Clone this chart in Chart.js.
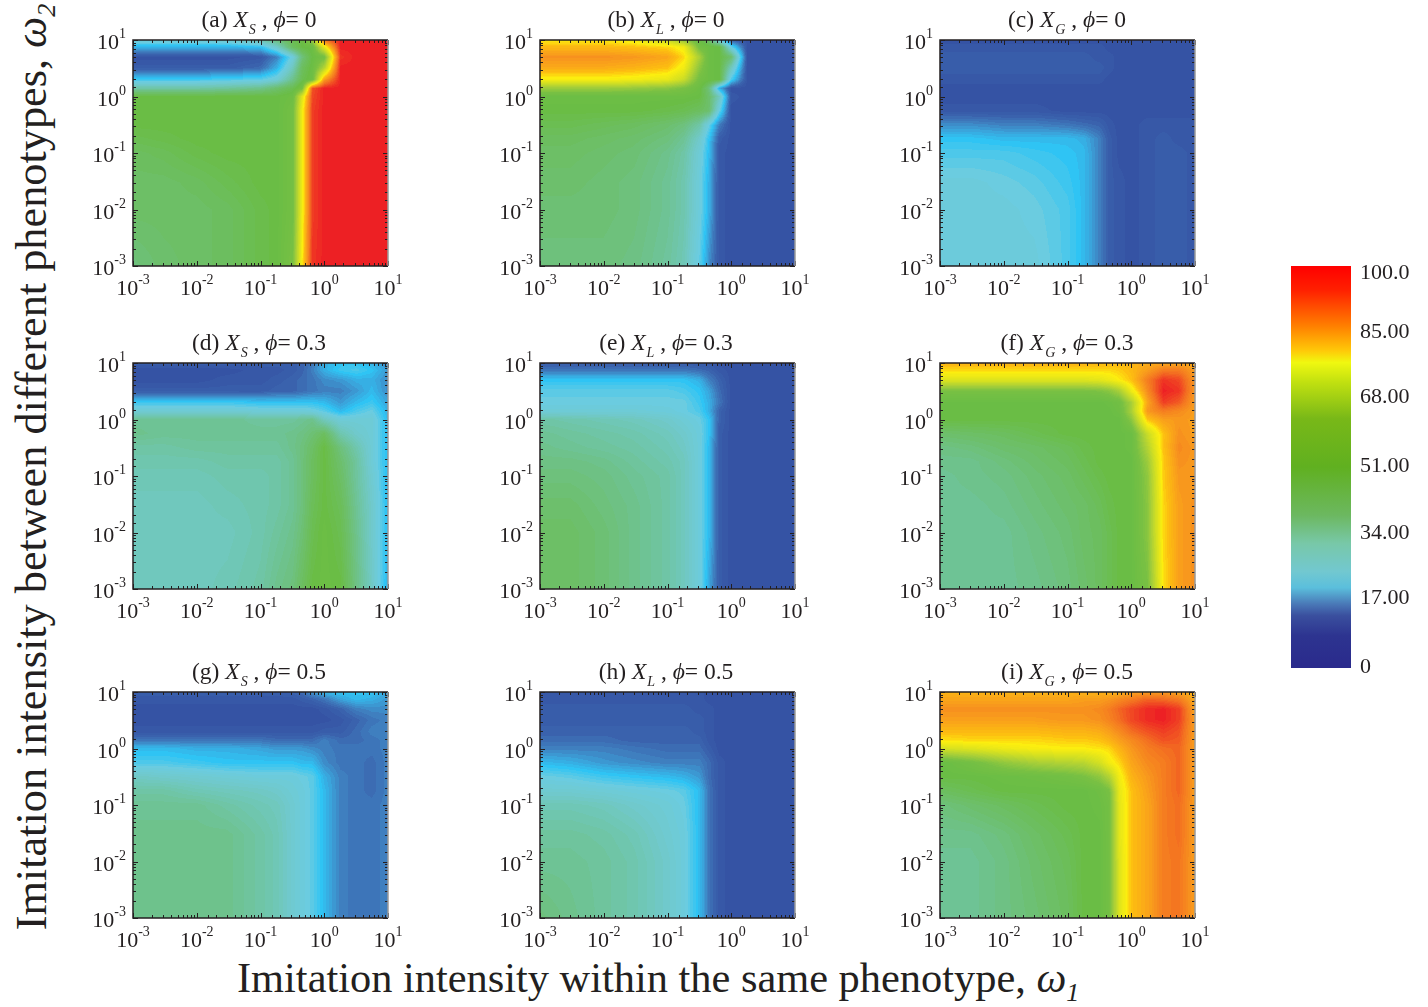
<!DOCTYPE html>
<html>
<head>
<meta charset="utf-8">
<title>Imitation intensity heat maps</title>
<script src="https://cdn.jsdelivr.net/npm/chart.js@4"></script>
<style>
html, body { margin: 0; padding: 0; background: #fff; }
body { position: relative; width: 1428px; height: 1007px; overflow: hidden; font-family: "Liberation Serif", serif; color: #231f20; }
canvas { position: absolute; }
.ptitle { position: absolute; font-size: 23.5px; line-height: 24px; white-space: nowrap; transform: translateX(-50%); }
.ptitle sub { font-size: 14px; line-height: 0; vertical-align: -7px; margin-left: 1px; }
.axtitle { position: absolute; line-height: 46px; white-space: nowrap; }
.axtitle sub { font-size: 26px; line-height: 0; vertical-align: -9px; }
</style>
</head>
<body>
<script>
// omega 1 (columns) and omega 2 (rows, top row first) of the value grid
const gridX = [0.001, 0.003, 0.01, 0.03, 0.1, 0.18, 0.32, 0.45, 0.65, 1, 1.8, 3.2, 5.6, 10];
const gridY = [10, 7.5, 5, 3.2, 2, 1.4, 1, 0.56, 0.32, 0.18, 0.1, 0.03, 0.01, 0.001];

const panelA = [
  [27,27,27,28,32,38,44,46,58,92,100,100,100,100],
  [18,18,18,18,20,28,42,46,47,72,100,100,100,100],
  [8,8,8,8,9,14,25,38,46,50,98,100,100,100],
  [10,10,10,10,12,18,30,42,47,62,100,100,100,100],
  [21,21,21,22,23,26,36,44,48,85,100,100,100,100],
  [33,33,33,34,36,40,44,50,95,100,100,100,100,100],
  [46,46,46,46,46,46,48,70,96,100,100,100,100,100],
  [46,46,46,46,46,46,50,74,97,100,100,100,100,100],
  [46,46,46,46,46,46,50,74,97,100,100,100,100,100],
  [44,45,46,46,46,46,50,74,97,100,100,100,100,100],
  [42,43,45,46,46,46,50,74,97,100,100,100,100,100],
  [41,41,42,44,46,46,50,74,97,100,100,100,100,100],
  [41,41,41,42,45,46,50,74,97,100,100,100,100,100],
  [38,40,41,42,45,46,52,76,98,100,100,100,100,100]
];
const panelB = [
  [76,76,76,74,66,56,46,40,24,10,8,8,8,8],
  [81,81,81,80,78,74,50,47,46,24,8,8,8,8],
  [87,87,87,86,84,78,60,47,46,40,8,8,8,8],
  [83,83,83,82,80,74,55,47,46,30,8,8,8,8],
  [75,75,75,74,72,66,50,47,46,22,8,8,8,8],
  [58,58,58,57,55,52,47,38,18,8,8,8,8,8],
  [47,47,47,47,47,47,46,40,30,9,8,8,8,8],
  [46,46,46,46,45,44,42,40,24,8,8,8,8,8],
  [44,44,43,42,40,38,33,24,14,8,8,8,8,8],
  [42,42,41,40,38,35,28,20,10,8,8,8,8,8],
  [41,41,40,39,36,33,26,19,9,8,8,8,8,8],
  [40,40,39,38,35,32,25,18,9,8,8,8,8,8],
  [39,39,39,38,35,32,25,18,9,8,8,8,8,8],
  [38,38,38,37,34,31,23,15,9,8,8,8,8,8]
];
const panelC = [
  [8,8,8,8,8,8,8,8,8,8,8,8,8,8],
  [9,9,9,9,9,9,9,8,8,8,8,8,8,8],
  [10,10,10,10,10,10,9,9,8,8,8,8,8,8],
  [10,10,10,10,10,10,10,9,8,8,8,8,8,8],
  [9,9,9,9,9,9,9,8,8,8,8,8,8,8],
  [8,8,8,8,8,8,8,8,8,8,8,8,8,8],
  [8,8,8,8,8,8,8,8,8,8,8,8,8,8],
  [9,9,9,9,8,8,8,8,8,8,8,8,8,8],
  [15,15,14,14,13,12,11,9,8,8,9,9,9,9],
  [20,20,19,19,19,18,14,10,8,8,9,10,9,9],
  [22,22,22,21,20,19,14,10,8,8,9,10,10,9],
  [25,25,24,23,21,19,14,10,9,8,9,10,10,9],
  [25,25,25,24,22,19,14,10,9,8,9,10,10,9],
  [25,25,25,25,22,19,14,10,9,8,9,10,10,9]
];
const panelD = [
  [10,10,10,10,10,10,10,11,13,18,20,20,18,15],
  [8,8,8,8,9,9,10,11,14,18,21,22,20,16],
  [8,8,8,9,9,10,11,12,13,15,16,18,18,15],
  [10,10,10,10,10,11,11,12,13,14,14,16,19,15],
  [21,21,21,21,20,20,20,20,20,19,16,19,21,17],
  [27,27,27,27,26,26,26,26,25,23,19,22,24,18],
  [35,35,35,35,34,34,34,35,36,30,26,26,26,19],
  [36,35,35,35,35,35,36,37,39,42,32,28,26,19],
  [33,33,34,34,34,34,36,38,41,46,38,32,26,19],
  [32,32,32,33,33,33,35,38,42,46,40,34,26,19],
  [31,31,31,32,32,33,35,38,42,46,41,34,27,19],
  [30,30,30,31,32,33,35,38,43,46,43,35,28,19],
  [30,30,30,30,32,34,36,39,44,47,44,36,28,19],
  [30,30,30,31,33,36,38,42,46,47,46,37,29,18]
];
const panelE = [
  [10,10,10,10,10,10,9,9,8,8,8,8,8,8],
  [13,13,13,13,13,13,12,11,9,8,8,8,8,8],
  [20,20,20,20,20,20,18,14,11,8,8,8,8,8],
  [23,23,23,23,23,22,20,17,12,8,8,8,8,8],
  [24,24,24,24,24,24,21,18,13,8,8,8,8,8],
  [26,26,26,26,25,24,22,18,11,8,8,8,8,8],
  [33,32,31,30,28,26,24,20,11,8,8,8,8,8],
  [35,34,33,32,30,28,25,20,10,8,8,8,8,8],
  [36,35,34,33,31,29,25,19,10,8,8,8,8,8],
  [37,37,36,34,32,30,25,19,10,8,8,8,8,8],
  [38,38,37,35,33,30,25,19,10,8,8,8,8,8],
  [40,40,38,36,33,30,25,19,10,8,8,8,8,8],
  [41,41,39,36,33,30,25,19,10,8,8,8,8,8],
  [41,41,39,36,33,30,25,17,10,8,8,8,8,8]
];
const panelF = [
  [82,82,82,82,82,82,81,81,81,82,83,84,84,83],
  [78,78,78,78,78,78,78,78,79,81,85,90,90,85],
  [70,70,70,70,70,70,71,73,76,80,90,98,96,86],
  [52,52,52,52,52,52,53,55,60,73,88,100,98,86],
  [46,46,46,46,46,46,46,47,49,60,84,97,94,85],
  [46,46,46,46,46,46,46,46,48,60,86,90,88,85],
  [46,46,46,46,46,46,46,46,46,55,80,85,86,85],
  [40,41,42,44,46,46,46,46,46,47,66,80,87,85],
  [37,38,40,41,43,45,46,46,46,47,62,80,88,86],
  [36,36,38,40,42,44,46,46,46,46,58,79,87,86],
  [35,36,37,39,41,43,45,46,46,46,56,79,86,86],
  [35,35,36,38,40,41,43,45,46,46,55,78,85,87],
  [35,35,35,37,39,41,42,44,46,46,55,78,85,87],
  [35,35,35,36,38,40,42,44,46,46,52,77,85,87]
];
const panelG = [
  [10,10,10,10,10,10,11,12,16,19,20,20,20,17],
  [9,9,9,9,9,9,9,10,11,13,17,19,18,16],
  [8,8,8,8,8,8,8,8,8,9,11,14,15,15],
  [8,8,8,8,8,8,8,8,8,8,9,11,13,14],
  [9,9,9,9,9,9,9,9,9,10,10,12,14,14],
  [13,13,13,13,13,12,12,12,12,14,12,12,13,14],
  [19,19,18,18,17,16,16,16,15,14,13,13,13,14],
  [22,22,21,20,20,20,20,19,19,15,13,13,12,14],
  [29,28,27,26,25,25,25,24,23,18,14,13,12,14],
  [33,33,31,30,29,28,26,25,23,19,14,13,12,14],
  [35,35,35,33,31,30,27,25,23,19,14,13,13,14],
  [36,36,36,36,33,31,27,25,23,19,14,13,13,14],
  [36,36,36,36,33,31,27,25,23,19,14,13,13,14],
  [36,36,36,36,33,31,27,25,23,19,14,13,13,14]
];
const panelH = [
  [9,9,9,9,9,9,9,8,8,8,8,8,8,8],
  [9,9,9,9,9,9,9,8,8,8,8,8,8,8],
  [10,10,10,10,10,10,9,9,8,8,8,8,8,8],
  [10,10,10,10,10,10,10,9,8,8,8,8,8,8],
  [11,11,11,11,11,11,10,9,8,8,8,8,8,8],
  [12,12,12,11,11,11,11,9,8,8,8,8,8,8],
  [14,14,14,13,12,12,12,10,8,8,8,8,8,8],
  [19,18,16,15,14,14,14,12,9,8,8,8,8,8],
  [24,23,21,20,19,18,16,12,9,8,8,8,8,8],
  [27,27,26,25,24,23,19,13,9,8,8,8,8,8],
  [31,31,30,28,26,24,19,13,9,8,8,8,8,8],
  [34,34,33,31,27,25,19,13,9,8,8,8,8,8],
  [35,35,34,32,28,25,19,13,9,8,8,8,8,8],
  [38,36,34,32,28,25,19,13,9,8,8,8,8,8]
];
const panelI = [
  [82,82,82,82,82,82,82,82,82,84,86,86,84,82],
  [84,84,84,84,84,85,85,86,88,90,93,92,90,83],
  [87,87,87,87,87,87,88,90,93,96,99,100,97,84],
  [85,85,85,85,86,86,87,89,92,96,99,100,97,85],
  [81,81,81,81,82,82,83,85,88,92,95,97,95,85],
  [77,78,78,78,79,79,80,82,85,88,92,95,94,85],
  [68,70,73,75,76,76,77,78,82,86,90,92,93,85],
  [46,50,56,60,62,63,68,74,78,84,88,90,93,85],
  [46,46,47,48,50,52,56,62,74,82,86,90,93,85],
  [42,44,46,46,46,46,48,52,72,80,85,90,93,85],
  [38,40,42,44,46,46,47,50,71,80,84,90,92,85],
  [36,36,38,41,44,46,46,50,71,80,84,90,92,85],
  [35,35,37,40,43,46,46,50,70,80,84,90,91,85],
  [35,35,37,39,42,46,46,50,70,80,84,90,91,85]
];

const panelTitles = [
  '(a) <i>X<sub>S</sub></i> , <i>ϕ</i>= 0', '(b) <i>X<sub>L</sub></i> , <i>ϕ</i>= 0', '(c) <i>X<sub>G</sub></i> , <i>ϕ</i>= 0',
  '(d) <i>X<sub>S</sub></i> , <i>ϕ</i>= 0.3', '(e) <i>X<sub>L</sub></i> , <i>ϕ</i>= 0.3', '(f) <i>X<sub>G</sub></i> , <i>ϕ</i>= 0.3',
  '(g) <i>X<sub>S</sub></i> , <i>ϕ</i>= 0.5', '(h) <i>X<sub>L</sub></i> , <i>ϕ</i>= 0.5', '(i) <i>X<sub>G</sub></i> , <i>ϕ</i>= 0.5'
];
const panelValues = [panelA, panelB, panelC, panelD, panelE, panelF, panelG, panelH, panelI];

const barValues = [0, 17, 34, 51, 68, 85, 100];
const barLabels = ['0', '17.00', '34.00', '51.00', '68.00', '85.00', '100.0'];

// colours of the maps and of the colour bar differ a little in the reference
const mapStops = [[0,'#2e3192'],[6,'#3250a2'],[8,'#3553a4'],[11,'#3a62ad'],[14,'#3f7fbf'],[17,'#3aa5dc'],[20,'#2fc4f4'],[24,'#6bcce0'],[28,'#70c9cc'],[32,'#6fc6ae'],[36,'#6ec28c'],[40,'#6dbf6c'],[46,'#6abd45'],[52,'#78c043'],[60,'#a8cf38'],[68,'#d4e021'],[76,'#fcee0f'],[80,'#fdc010'],[86,'#f8981d'],[92,'#f36f21'],[100,'#ed2024']];
const barStops = [[0,'#2a2a8c'],[8,'#2d3490'],[13,'#3a4f9e'],[16,'#4a7ab8'],[20,'#5bbfdc'],[24,'#72c8d0'],[31,'#78c8a8'],[38,'#6cb860'],[50,'#60b020'],[62,'#78b818'],[71,'#c0e010'],[76,'#f0f810'],[79,'#ffc808'],[85,'#ff8000'],[94,'#ff2000'],[100,'#ff0000']];

const panelW = 255, panelH_px = 226;
const colLefts = [133, 540, 940];
const rowTops = [40, 363, 692];
const titleCenters = [259, 666, 1067];
const PAD = { left: 44, top: 12, right: 22, bottom: 36 };
const INK = '#231f20';

function hexRgb(h) {
  return [parseInt(h.slice(1, 3), 16), parseInt(h.slice(3, 5), 16), parseInt(h.slice(5, 7), 16)];
}

// one entry per colour bar level, same as the contour levels of the maps
const mapLut = [];
for (let v = 0; v <= 100; v++) {
  let i = 0;
  while (i < mapStops.length - 2 && v > mapStops[i + 1][0]) i++;
  const a = mapStops[i], b = mapStops[i + 1];
  const t = (v - a[0]) / (b[0] - a[0]);
  const ca = hexRgb(a[1]), cb = hexRgb(b[1]);
  mapLut.push([0, 1, 2].map(k => Math.round(ca[k] + (cb[k] - ca[k]) * t)));
}

const logX = gridX.map(Math.log10);
const logY = gridY.map(Math.log10);

function findCell(list, v) {
  // list may run up or down
  for (let i = 0; i < list.length - 1; i++) {
    const lo = Math.min(list[i], list[i + 1]), hi = Math.max(list[i], list[i + 1]);
    if (v >= lo && v <= hi) return [i, (v - list[i]) / (list[i + 1] - list[i])];
  }
  return v < Math.min(list[0], list[list.length - 1]) ? [list[0] < list[1] ? 0 : list.length - 2, list[0] < list[1] ? 0 : 1]
                                                       : [list[0] < list[1] ? list.length - 2 : 0, list[0] < list[1] ? 1 : 0];
}

const heatPlugin = {
  id: 'heat',
  beforeDatasetsDraw(chart) {
    const values = chart.options.plugins.heat.values;
    if (!values) return;
    const area = chart.chartArea;
    const w = Math.round(area.right - area.left), h = Math.round(area.bottom - area.top);
    const off = document.createElement('canvas');
    off.width = w; off.height = h;
    const octx = off.getContext('2d');
    const img = octx.createImageData(w, h);
    const cols = [];
    for (let px = 0; px < w; px++) cols.push(findCell(logX, Math.log10(chart.scales.x.getValueForPixel(area.left + px + 0.5))));
    for (let py = 0; py < h; py++) {
      const [r, tr] = findCell(logY, Math.log10(chart.scales.y.getValueForPixel(area.top + py + 0.5)));
      for (let px = 0; px < w; px++) {
        const [c, tc] = cols[px];
        const top = values[r][c] + (values[r][c + 1] - values[r][c]) * tc;
        const bot = values[r + 1][c] + (values[r + 1][c + 1] - values[r + 1][c]) * tc;
        const rgb = mapLut[Math.round(top + (bot - top) * tr)];
        const o = (py * w + px) * 4;
        img.data[o] = rgb[0]; img.data[o + 1] = rgb[1]; img.data[o + 2] = rgb[2]; img.data[o + 3] = 255;
      }
    }
    octx.putImageData(img, 0, 0);
    chart.ctx.drawImage(off, area.left, area.top);
  },
  afterDraw(chart) {
    if (!chart.options.plugins.heat.values) return;
    const { ctx, chartArea: area, scales } = chart;
    ctx.save();
    ctx.strokeStyle = INK;
    ctx.lineWidth = 1;
    // inward ticks on all four sides
    scales.x.ticks.forEach(t => {
      const major = Math.abs(Math.log10(t.value) - Math.round(Math.log10(t.value))) < 1e-6;
      const len = major ? 5 : 3;
      const x = Math.round(scales.x.getPixelForValue(t.value)) + 0.5;
      ctx.beginPath();
      ctx.moveTo(x, area.bottom); ctx.lineTo(x, area.bottom - len);
      ctx.moveTo(x, area.top); ctx.lineTo(x, area.top + len);
      ctx.stroke();
    });
    scales.y.ticks.forEach(t => {
      const major = Math.abs(Math.log10(t.value) - Math.round(Math.log10(t.value))) < 1e-6;
      const len = major ? 5 : 3;
      const y = Math.round(scales.y.getPixelForValue(t.value)) + 0.5;
      ctx.beginPath();
      ctx.moveTo(area.left, y); ctx.lineTo(area.left + len, y);
      ctx.moveTo(area.right, y); ctx.lineTo(area.right - len, y);
      ctx.stroke();
    });
    // frame, the right edge is grey in the reference
    ctx.lineWidth = 1.5;
    ctx.beginPath();
    ctx.moveTo(area.right, area.top); ctx.lineTo(area.left, area.top); ctx.lineTo(area.left, area.bottom); ctx.lineTo(area.right, area.bottom);
    ctx.stroke();
    ctx.strokeStyle = '#9a9a9a';
    ctx.beginPath(); ctx.moveTo(area.right, area.top); ctx.lineTo(area.right, area.bottom); ctx.stroke();

    // tick labels with a raised exponent
    ctx.fillStyle = INK;
    ctx.textBaseline = 'alphabetic';
    ctx.textAlign = 'left';
    scales.x.ticks.forEach(t => {
      const e = Math.round(Math.log10(t.value));
      if (Math.abs(Math.log10(t.value) - e) > 1e-6) return;
      const w = powerWidth(ctx, e);
      drawPower(ctx, e, scales.x.getPixelForValue(t.value) - w / 2, area.bottom + 29);
    });
    scales.y.ticks.forEach(t => {
      const e = Math.round(Math.log10(t.value));
      if (Math.abs(Math.log10(t.value) - e) > 1e-6) return;
      const w = powerWidth(ctx, e);
      drawPower(ctx, e, area.left - 7 - w, scales.y.getPixelForValue(t.value) + 9);
    });
    ctx.restore();
  }
};

function powerWidth(ctx, e) {
  ctx.font = '22px "Liberation Serif"';
  const a = ctx.measureText('10').width;
  ctx.font = '14px "Liberation Serif"';
  return a + ctx.measureText(String(e)).width;
}
function drawPower(ctx, e, x, y) {
  ctx.font = '22px "Liberation Serif"';
  ctx.fillText('10', x, y);
  const a = ctx.measureText('10').width;
  ctx.font = '14px "Liberation Serif"';
  ctx.fillText(String(e), x + a, y - 11);
}

Chart.register(heatPlugin);

const hiddenAxis = { grid: { display: false, drawTicks: false }, border: { display: false }, ticks: { display: false, padding: 0 } };

// nine maps, one chart each
panelValues.forEach((values, n) => {
  const col = n % 3, row = Math.floor(n / 3);
  const left = colLefts[col], top = rowTops[row];
  const canvas = document.createElement('canvas');
  canvas.width = panelW + PAD.left + PAD.right;
  canvas.height = panelH_px + PAD.top + PAD.bottom;
  canvas.style.left = (left - PAD.left) + 'px';
  canvas.style.top = (top - PAD.top) + 'px';
  document.body.appendChild(canvas);

  const points = [];
  gridY.forEach((y, r) => gridX.forEach((x, c) => points.push({ x: x, y: y, v: values[r][c] })));

  new Chart(canvas.getContext('2d'), {
    type: 'scatter',
    data: { datasets: [{ data: points, pointRadius: 0 }] },
    options: {
      responsive: false,
      animation: false,
      layout: { padding: PAD },
      plugins: { legend: { display: false }, tooltip: { enabled: false }, heat: { values: values } },
      scales: {
        x: { type: 'logarithmic', min: 0.001, max: 10, ...hiddenAxis },
        y: { type: 'logarithmic', min: 0.001, max: 10, ...hiddenAxis }
      }
    }
  });

  const t = document.createElement('div');
  t.className = 'ptitle';
  t.innerHTML = panelTitles[n];
  t.style.left = titleCenters[col] + 'px';
  t.style.top = (top - 33) + 'px';
  document.body.appendChild(t);
});

// colour bar
const barCanvas = document.createElement('canvas');
barCanvas.width = 140; barCanvas.height = 420;
barCanvas.style.left = '1285px'; barCanvas.style.top = '258px';
document.body.appendChild(barCanvas);
const barShift = [-1, -1, 2, 3, 3, 6, 7];

new Chart(barCanvas.getContext('2d'), {
  type: 'bar',
  data: {
    labels: ['level'],
    datasets: [{
      data: [[0, 100]],
      barPercentage: 1,
      categoryPercentage: 1,
      backgroundColor(c) {
        const { chartArea, scales, ctx } = c.chart;
        if (!chartArea) return '#000';
        const g = ctx.createLinearGradient(0, scales.y.getPixelForValue(0), 0, scales.y.getPixelForValue(100));
        barStops.forEach(s => g.addColorStop(s[0] / 100, s[1]));
        return g;
      }
    }]
  },
  options: {
    responsive: false,
    animation: false,
    layout: { padding: { left: 6, right: 74, top: 8, bottom: 10 } },
    plugins: { legend: { display: false }, tooltip: { enabled: false }, heat: {} },
    scales: { x: { display: false }, y: { display: false, min: 0, max: 100 } }
  },
  plugins: [{
    id: 'barLabels',
    afterDraw(chart) {
      const { ctx, chartArea: area, scales } = chart;
      ctx.save();
      ctx.fillStyle = INK;
      ctx.font = '22px "Liberation Serif"';
      ctx.textBaseline = 'middle';
      ctx.textAlign = 'left';
      barValues.forEach((v, i) => ctx.fillText(barLabels[i], area.right + 9, scales.y.getPixelForValue(v) + barShift[i]));
      ctx.restore();
    }
  }]
});

// axis titles
const xTitle = document.createElement('div');
xTitle.className = 'axtitle';
xTitle.innerHTML = 'Imitation intensity within the same phenotype, <i>ω<sub>1</sub></i>';
xTitle.style.fontSize = '42.4px';
xTitle.style.left = '237px';
xTitle.style.top = '955px';
document.body.appendChild(xTitle);

const yTitle = document.createElement('div');
yTitle.className = 'axtitle';
yTitle.innerHTML = 'Imitation intensity between different phenotypes, <i>ω<sub>2</sub></i>';
yTitle.style.fontSize = '44.3px';
yTitle.style.left = '32px';
yTitle.style.top = '467px';
yTitle.style.transform = 'translate(-50%, -50%) rotate(-90deg)';
document.body.appendChild(yTitle);
</script>
</body>
</html>
